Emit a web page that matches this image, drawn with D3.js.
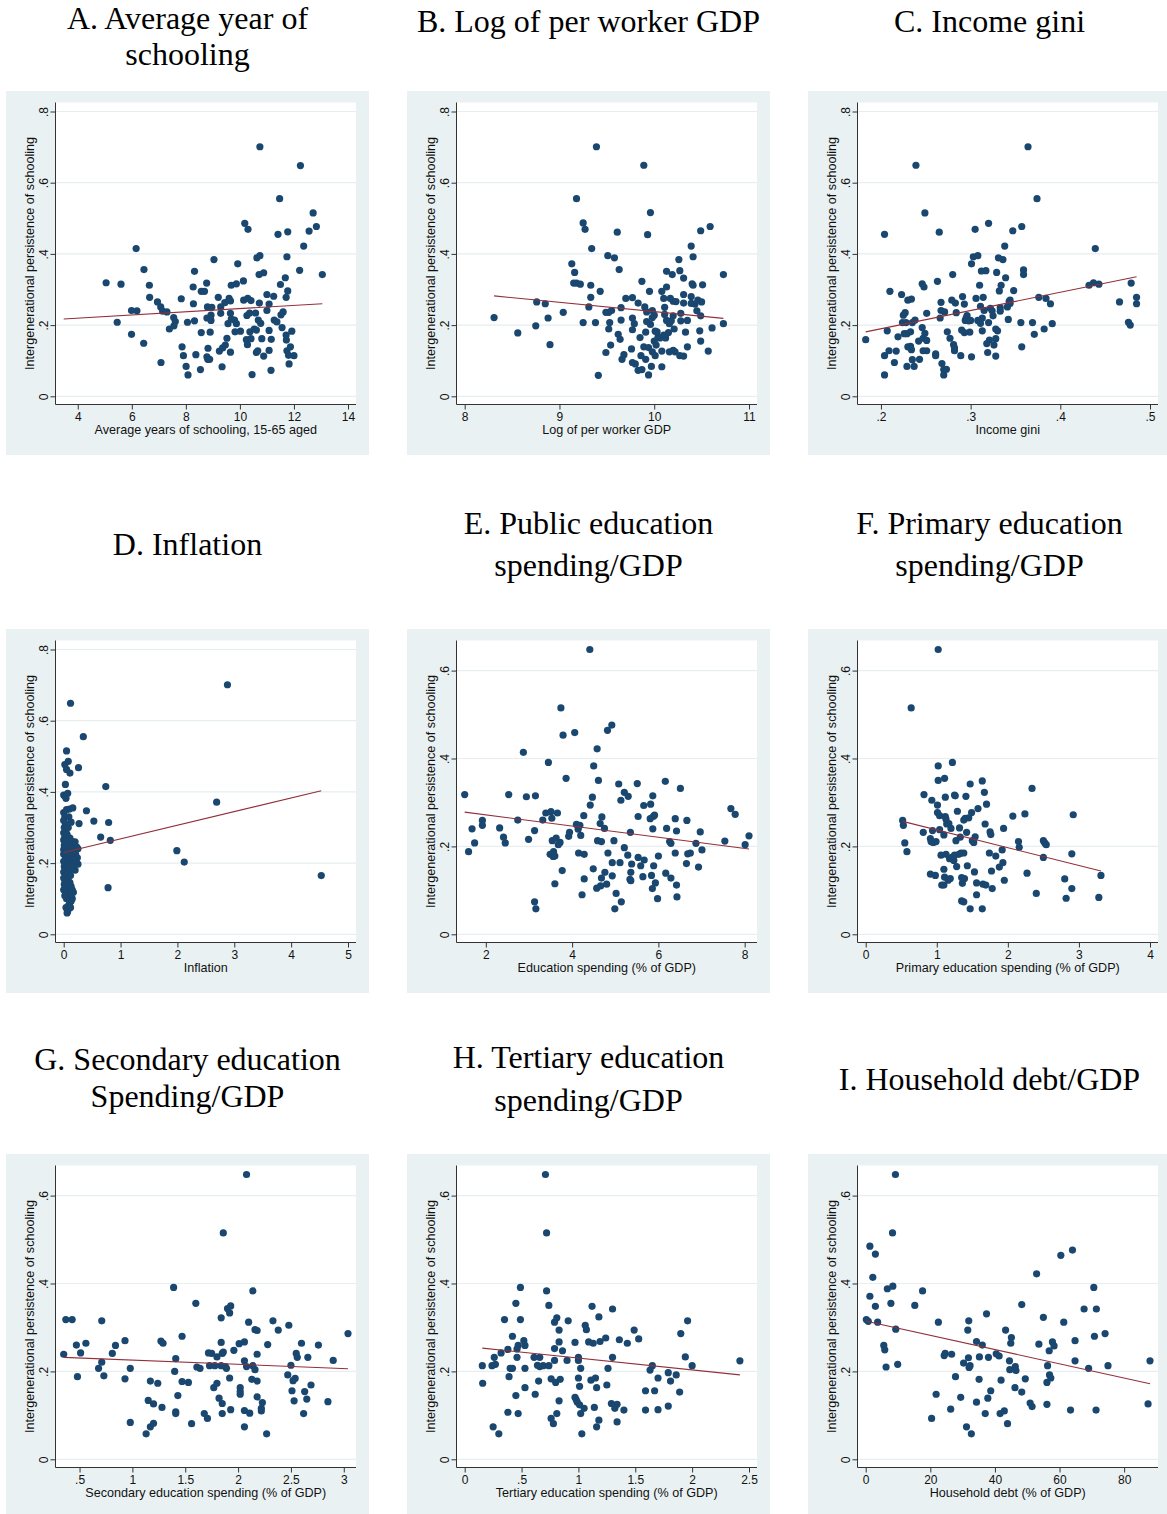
<!DOCTYPE html>
<html>
<head>
<meta charset="utf-8">
<script src="https://cdnjs.cloudflare.com/ajax/libs/d3/7.8.5/d3.min.js"></script>
<style>
    body { margin: 0; background: #fff; }
    svg { display: block; }
    .panel-title { font-family: "Liberation Serif", "Times New Roman", serif; font-size: 32px; fill: #000; }
    .axis-label { font-family: "Liberation Sans", Arial, sans-serif; font-size: 12.6px; fill: #111; }
    .tick text { font-family: "Liberation Sans", Arial, sans-serif; font-size: 12px; fill: #111; }
</style>
</head>
<body>
<div id="chart"></div>
<script>
// ---- data: [x, persistence] ----
var schoolingPts = [[5.05,.319],[5.6,.315],[5.46,.208],[5.99,.241],[6.19,.24],[5.99,.174],[6.16,.415],[6.45,.356],[6.44,.149],[6.65,.312],
    [6.66,.278],[6.95,.265],[7.07,.251],[7.14,.239],[7.3,.237],[7.08,.095],[7.39,.189],[7.55,.221],[7.61,.21],[7.56,.198],
    [7.83,.274],[7.86,.139],[7.91,.114],[8.06,.208],[8.01,.084],[8.08,.06],[8.27,.307],[8.32,.351],[8.28,.26],[8.32,.212],
    [8.37,.117],[8.54,.075],[8.57,.179],[8.57,.295],[8.69,.295],[8.77,.318],[8.8,.251],[8.78,.22],[8.82,.135],[8.78,.111],
    [8.81,.104],[8.88,.104],[8.9,.18],[8.93,.213],[8.96,.25],[8.93,.228],[9.04,.384],[9.2,.278],[9.24,.127],[9.29,.233],
    [9.29,.251],[9.34,.083],[9.36,.136],[9.44,.263],[9.46,.144],[9.52,.163],[9.56,.204],[9.6,.275],[9.65,.268],[9.65,.233],
    [9.68,.217],[9.65,.124],[9.68,.312],[9.8,.214],[9.82,.181],[9.87,.316],[9.92,.372],[9.87,.204],[10.02,.183],[10.13,.324],
    [10.14,.27],[10.18,.486],[10.3,.469],[10.26,.227],[10.28,.145],[10.24,.159],[10.29,.275],[10.41,.269],[10.36,.234],[10.37,.181],
    [10.45,.061],[10.41,.162],[10.53,.189],[10.58,.234],[10.61,.123],[10.61,.186],[10.63,.389],[10.71,.342],[10.72,.262],[10.74,.395],
    [10.74,.701],[10.68,.214],[10.77,.205],[10.81,.162],[10.66,.128],[10.88,.347],[10.88,.113],[11.0,.286],[11.0,.241],[11.08,.259],
    [11.08,.185],[11.08,.129],[11.15,.073],[11.16,.16],[11.25,.281],[11.27,.214],[11.37,.209],[11.41,.455],[11.47,.555],[11.5,.314],
    [11.52,.229],[11.56,.193],[11.6,.237],[11.68,.333],[11.71,.278],[11.71,.172],[11.72,.158],[11.74,.392],[11.77,.462],[11.77,.296],
    [11.74,.128],[11.8,.115],[11.82,.091],[11.87,.139],[11.92,.183],[12.0,.114],[12.21,.354],[12.24,.648],[12.36,.422],[12.56,.464],
    [12.71,.515],[12.83,.477],[13.05,.342]];
var schoolingFit = [[3.48,.217],[13.05,.26]];

var gdpPts = [[8.31,.221],[8.56,.178],[8.75,.198],[8.76,.265],[8.85,.26],[8.88,.22],[8.9,.145],[9.04,.236],[9.13,.372],[9.15,.318],
    [9.16,.348],[9.18,.555],[9.18,.318],[9.22,.315],[9.25,.487],[9.25,.207],[9.27,.469],[9.31,.251],[9.33,.278],[9.33,.312],
    [9.34,.415],[9.38,.207],[9.39,.701],[9.41,.059],[9.43,.295],[9.49,.123],[9.49,.236],[9.51,.395],[9.52,.236],[9.53,.207],
    [9.52,.189],[9.54,.144],[9.55,.241],[9.58,.389],[9.61,.461],[9.62,.174],[9.63,.356],[9.64,.16],[9.65,.214],[9.65,.249],
    [9.66,.104],[9.68,.117],[9.7,.275],[9.76,.133],[9.77,.187],[9.77,.22],[9.77,.277],[9.79,.204],[9.77,.095],[9.8,.091],
    [9.83,.262],[9.83,.073],[9.85,.165],[9.86,.114],[9.87,.323],[9.87,.075],[9.89,.649],[9.89,.139],[9.9,.251],[9.91,.104],
    [9.91,.18],[9.92,.237],[9.92,.21],[9.93,.454],[9.94,.137],[9.94,.06],[9.95,.295],[9.96,.516],[9.96,.202],[9.97,.084],
    [9.98,.125],[9.98,.221],[9.98,.241],[10.0,.228],[10.0,.155],[10.01,.114],[10.01,.183],[10.02,.144],[10.03,.181],[10.04,.166],
    [10.06,.164],[10.08,.127],[10.08,.083],[10.08,.295],[10.1,.275],[10.1,.172],[10.11,.25],[10.11,.23],[10.12,.164],[10.13,.213],
    [10.13,.307],[10.13,.351],[10.15,.179],[10.16,.204],[10.16,.125],[10.17,.275],[10.18,.212],[10.19,.342],[10.2,.267],[10.2,.129],
    [10.2,.226],[10.21,.189],[10.22,.125],[10.23,.266],[10.26,.384],[10.27,.114],[10.27,.353],[10.28,.233],[10.28,.212],[10.31,.113],
    [10.31,.332],[10.31,.286],[10.31,.262],[10.33,.18],[10.35,.213],[10.35,.139],[10.39,.422],[10.39,.28],[10.39,.261],[10.4,.316],
    [10.41,.392],[10.41,.312],[10.43,.259],[10.45,.24],[10.46,.27],[10.48,.184],[10.49,.465],[10.5,.265],[10.49,.226],[10.49,.155],
    [10.51,.313],[10.57,.127],[10.59,.477],[10.61,.192],[10.73,.342],[10.73,.204]];
var gdpFit = [[8.31,.282],[10.73,.219]];

var giniPts = [[.183,.159],[.204,.114],[.204,.455],[.204,.06],[.207,.184],[.209,.128],[.21,.295],[.215,.095],[.217,.127],[.219,.167],
    [.223,.286],[.224,.207],[.225,.228],[.227,.235],[.228,.207],[.226,.176],[.229,.084],[.229,.176],[.23,.27],[.23,.139],
    [.233,.14],[.233,.181],[.234,.273],[.234,.131],[.235,.207],[.235,.103],[.237,.084],[.238,.214],[.239,.649],[.242,.155],
    [.243,.104],[.246,.193],[.246,.316],[.247,.163],[.248,.307],[.247,.128],[.249,.515],[.249,.177],[.251,.233],[.251,.157],
    [.251,.128],[.261,.119],[.261,.114],[.263,.323],[.265,.461],[.266,.22],[.267,.264],[.267,.241],[.268,.092],[.27,.075],
    [.27,.06],[.271,.237],[.273,.076],[.274,.181],[.277,.163],[.28,.342],[.279,.27],[.281,.145],[.282,.128],[.283,.262],
    [.284,.235],[.282,.136],[.289,.114],[.29,.186],[.291,.28],[.293,.179],[.293,.259],[.294,.213],[.295,.22],[.296,.227],
    [.298,.212],[.299,.18],[.3,.213],[.301,.111],[.301,.372],[.303,.392],[.305,.469],[.306,.275],[.308,.395],[.308,.213],
    [.31,.312],[.311,.253],[.311,.205],[.312,.352],[.313,.22],[.313,.184],[.314,.278],[.315,.241],[.317,.353],[.318,.148],
    [.319,.123],[.32,.207],[.32,.486],[.321,.158],[.322,.247],[.324,.24],[.325,.226],[.326,.144],[.328,.113],[.328,.162],
    [.328,.189],[.329,.348],[.33,.184],[.331,.389],[.332,.296],[.333,.239],[.333,.249],[.334,.312],[.336,.384],[.338,.422],
    [.339,.333],[.341,.251],[.342,.216],[.343,.267],[.344,.27],[.344,.261],[.347,.465],[.348,.297],[.356,.207],[.357,.477],
    [.357,.139],[.359,.355],[.359,.342],[.364,.701],[.369,.207],[.371,.174],[.374,.555],[.376,.278],[.382,.189],[.384,.275],
    [.389,.26],[.391,.204],[.432,.312],[.437,.319],[.439,.415],[.443,.315],[.466,.265],[.476,.208],[.478,.2],[.479,.318],
    [.485,.278],[.485,.26]];
var giniFit = [[.183,.181],[.485,.336]];

var inflationPts = [[.12,.649],[.345,.555],[.05,.515],[.26,.468],[.08,.486],[.02,.477],[.05,.463],[.11,.453],[.03,.421],[0,.391],
    [.02,.389],[.07,.396],[.04,.382],[.74,.415],[.4,.347],[.53,.318],[.27,.311],[.79,.314],[.65,.273],[.82,.264],
    [.78,.131],[2.69,.371],[2.88,.701],[1.99,.235],[2.12,.203],[4.53,.165],
    [0,.342],[.02,.33],[0,.32],[.03,.31],[.01,.3],[.04,.29],[0,.285],[.02,.275],[.06,.28],[0,.265],
    [.03,.26],[.07,.255],[.01,.25],[.04,.245],[.09,.25],[0,.238],[.02,.232],[.06,.235],[.1,.24],[.13,.245],
    [.16,.26],[.2,.26],[.23,.245],[.25,.24],[.18,.235],[0,.225],[.03,.22],[.05,.215],[.08,.22],[.11,.225],
    [.14,.22],[.18,.22],[.21,.225],[.24,.215],[0,.205],[.02,.2],[.06,.205],[.09,.2],[.12,.205],[.15,.21],
    [.19,.2],[.22,.2],[.25,.197],[.2,.18],[.01,.19],[.04,.185],[.07,.19],[.1,.185],[.13,.19],[0,.175],
    [.03,.17],[.06,.168],[.09,.173],[.12,.165],[0,.158],[.02,.152],[.05,.155],[.08,.15],[.11,.145],[.01,.14],
    [.04,.135],[.07,.138],[.1,.13],[.13,.135],[0,.125],[.03,.12],[.06,.115],[.09,.118],[.12,.112],[.17,.118],
    [.15,.125],[.02,.108],[.05,.1],[.1,.095],[.13,.093],[.15,.1],[.04,.075],[.08,.08],[.12,.075],[.06,.06],
    [.07,.065],[.11,.09],[.05,.35],[.1,.352],[.16,.355],[.13,.315],[.09,.33],[.11,.27],[.08,.3]];
var inflationFit = [[0,.23],[4.53,.403]];

var eduPts = [[1.51,.318],[1.6,.188],[1.68,.24],[1.74,.208],[1.92,.259],[1.92,.248],[2.32,.242],[2.41,.221],[2.45,.208],[2.53,.318],
    [2.74,.26],[2.87,.414],[2.94,.313],[2.99,.216],[3.13,.236],[3.15,.315],[3.13,.074],[3.16,.058],[3.32,.26],[3.39,.276],
    [3.45,.391],[3.49,.182],[3.51,.279],[3.53,.264],[3.54,.213],[3.56,.177],[3.57,.188],[3.6,.115],[3.6,.178],[3.63,.219],
    [3.66,.276],[3.68,.204],[3.72,.209],[3.74,.515],[3.77,.145],[3.79,.453],[3.86,.355],[3.92,.223],[3.94,.232],[4.06,.459],
    [4.1,.25],[4.14,.239],[4.15,.185],[4.18,.248],[4.2,.225],[4.23,.09],[4.27,.27],[4.28,.182],[4.28,.126],[4.41,.648],
    [4.42,.294],[4.47,.312],[4.49,.149],[4.5,.383],[4.57,.105],[4.58,.422],[4.61,.35],[4.59,.213],[4.66,.11],[4.65,.252],
    [4.68,.211],[4.68,.128],[4.69,.267],[4.75,.241],[4.76,.141],[4.8,.114],[4.82,.464],[4.83,.185],[4.92,.476],[4.93,.133],
    [4.93,.163],[4.97,.213],[4.99,.058],[5.02,.093],[5.08,.342],[5.11,.163],[5.13,.305],[5.14,.074],[5.21,.323],[5.21,.197],
    [5.3,.314],[5.29,.18],[5.34,.125],[5.35,.232],[5.36,.141],[5.36,.122],[5.38,.16],[5.51,.343],[5.53,.268],[5.53,.175],
    [5.59,.156],[5.66,.293],[5.67,.169],[5.64,.131],[5.81,.263],[5.82,.296],[5.84,.134],[5.86,.104],[5.87,.24],[5.87,.315],
    [5.88,.268],[5.89,.156],[5.91,.271],[5.93,.117],[5.98,.081],[6.0,.178],[6.16,.348],[6.17,.139],[6.19,.241],[6.26,.211],
    [6.29,.207],[6.29,.128],[6.39,.263],[6.39,.185],[6.42,.235],[6.42,.112],[6.43,.085],[6.51,.332],[6.65,.161],[6.66,.259],
    [6.68,.183],[6.74,.185],[6.87,.207],[6.93,.153],[6.97,.233],[7.01,.192],[7.54,.212],[7.68,.286],[7.78,.273],[8.01,.204],
    [8.1,.224]];
var eduFit = [[1.51,.278],[8.1,.194]];

var primaryPts = [[.52,.259],[.53,.248],[.55,.208],[.58,.188],[.64,.515],[.81,.232],[.82,.318],[.91,.137],[.91,.218],[.93,.305],
    [.92,.211],[.94,.236],[.95,.209],[.98,.134],[.99,.211],[1.01,.277],[1.01,.294],[1.02,.383],[1.02,.648],[1.02,.35],
    [1.04,.27],[1.04,.238],[1.06,.18],[1.07,.112],[1.1,.148],[1.1,.226],[1.1,.112],[1.11,.355],[1.11,.13],[1.12,.268],
    [1.12,.312],[1.13,.262],[1.13,.182],[1.14,.251],[1.16,.123],[1.17,.252],[1.18,.172],[1.19,.127],[1.2,.241],[1.21,.175],
    [1.22,.391],[1.24,.168],[1.25,.317],[1.25,.18],[1.26,.315],[1.27,.213],[1.28,.154],[1.29,.28],[1.31,.182],[1.32,.242],
    [1.33,.221],[1.34,.185],[1.35,.076],[1.35,.129],[1.36,.116],[1.38,.074],[1.38,.185],[1.38,.26],[1.39,.127],[1.4,.264],
    [1.41,.314],[1.42,.232],[1.43,.156],[1.45,.265],[1.47,.342],[1.47,.058],[1.49,.277],[1.5,.213],[1.52,.209],[1.53,.142],
    [1.54,.222],[1.56,.09],[1.56,.117],[1.58,.286],[1.64,.349],[1.64,.058],[1.65,.114],[1.67,.323],[1.68,.251],[1.69,.112],
    [1.7,.296],[1.74,.185],[1.75,.233],[1.76,.227],[1.77,.144],[1.78,.104],[1.83,.178],[1.88,.153],[1.92,.192],[1.93,.163],
    [1.94,.241],[1.95,.123],[2.07,.269],[2.15,.211],[2.16,.198],[2.24,.274],[2.27,.139],[2.34,.332],[2.4,.093],[2.5,.213],
    [2.5,.175],[2.52,.208],[2.54,.204],[2.8,.126],[2.82,.082],[2.9,.104],[2.9,.183],[2.92,.272],[3.28,.084],[3.31,.134]];
var primaryFit = [[.52,.257],[3.31,.144]];

var secondaryPts = [[.35,.239],[.37,.318],[.43,.318],[.47,.26],[.48,.188],[.51,.242],[.56,.264],[.68,.207],[.71,.315],[.71,.221],
    [.73,.19],[.81,.241],[.84,.259],[.93,.27],[.93,.183],[.98,.084],[.98,.207],[1.13,.058],[1.15,.134],[1.17,.074],
    [1.17,.178],[1.2,.126],[1.2,.082],[1.24,.173],[1.27,.269],[1.29,.264],[1.28,.118],[1.39,.391],[1.41,.229],[1.4,.2],
    [1.41,.108],[1.41,.104],[1.43,.145],[1.47,.28],[1.47,.177],[1.53,.175],[1.56,.081],[1.6,.355],[1.61,.21],[1.64,.207],
    [1.68,.104],[1.71,.093],[1.72,.242],[1.73,.213],[1.75,.241],[1.77,.163],[1.78,.213],[1.8,.173],[1.8,.233],[1.82,.139],
    [1.84,.322],[1.84,.266],[1.84,.213],[1.85,.127],[1.85,.104],[1.85,.241],[1.86,.515],[1.86,.244],[1.88,.211],[1.89,.207],
    [1.9,.343],[1.92,.333],[1.93,.349],[1.92,.185],[1.93,.113],[1.96,.248],[2.01,.263],[2.02,.163],[2.02,.154],[2.02,.148],
    [2.06,.267],[2.06,.224],[2.06,.111],[2.06,.074],[2.08,.648],[2.08,.211],[2.1,.312],[2.11,.105],[2.13,.182],[2.14,.213],
    [2.14,.383],[2.16,.204],[2.16,.295],[2.18,.142],[2.18,.293],[2.18,.239],[2.18,.178],[2.22,.116],[2.23,.129],[2.22,.11],
    [2.27,.058],[2.28,.261],[2.33,.315],[2.38,.294],[2.48,.305],[2.47,.192],[2.5,.214],[2.51,.156],[2.52,.179],[2.53,.133],
    [2.54,.184],[2.55,.241],[2.56,.232],[2.6,.264],[2.62,.104],[2.63,.154],[2.65,.137],[2.66,.232],[2.69,.169],[2.76,.26],
    [2.85,.131],[2.9,.225],[3.04,.286]];
var secondaryFit = [[.35,.232],[3.04,.206]];

var tertiaryPts = [[.155,.213],[.158,.173],[.24,.213],[.26,.232],[.27,.216],[.25,.074],[.3,.058],[.32,.242],[.35,.318],[.38,.25],
    [.38,.107],[.39,.188],[.4,.207],[.42,.207],[.42,.28],[.45,.355],[.45,.145],[.46,.251],[.46,.232],[.47,.104],
    [.47,.259],[.49,.318],[.49,.391],[.52,.27],[.53,.259],[.53,.207],[.53,.163],[.61,.232],[.62,.148],[.64,.214],
    [.65,.178],[.66,.211],[.66,.232],[.69,.213],[.71,.648],[.72,.515],[.72,.383],[.74,.35],[.74,.213],[.76,.093],
    [.76,.183],[.78,.081],[.79,.252],[.79,.312],[.79,.225],[.8,.175],[.81,.322],[.81,.104],[.83,.294],[.83,.267],
    [.83,.133],[.84,.182],[.86,.247],[.9,.225],[.91,.315],[.97,.266],[.97,.141],[.98,.136],[.99,.13],[1.0,.232],
    [1.0,.225],[1.0,.185],[1.01,.166],[1.01,.124],[1.02,.104],[1.02,.207],[1.05,.116],[1.03,.058],[1.06,.305],[1.07,.295],
    [1.09,.267],[1.11,.18],[1.12,.348],[1.13,.264],[1.14,.118],[1.15,.185],[1.16,.074],[1.16,.163],[1.18,.089],[1.18,.324],
    [1.19,.268],[1.24,.276],[1.25,.169],[1.26,.207],[1.29,.127],[1.3,.342],[1.3,.232],[1.32,.116],[1.34,.125],[1.34,.085],
    [1.36,.272],[1.4,.112],[1.43,.264],[1.49,.294],[1.53,.274],[1.59,.156],[1.59,.112],[1.63,.203],[1.65,.213],[1.67,.156],
    [1.7,.185],[1.7,.113],[1.79,.121],[1.79,.197],[1.81,.178],[1.86,.192],[1.89,.153],[1.9,.286],[1.94,.233],[1.96,.315],
    [2.0,.213],[2.42,.224]];
var tertiaryFit = [[.155,.253],[2.42,.192]];

var debtPts = [[.2,.318],[.8,.314],[1.3,.485],[1.3,.371],[2.2,.414],[3.0,.467],[3.0,.348],[3.7,.312],[5.6,.259],[5.9,.249],
    [6.3,.21],[6.7,.388],[7.8,.355],[8.3,.515],[8.4,.394],[9.2,.648],[9.3,.296],[9.9,.216],[15.2,.35],[17.6,.383],
    [20.4,.093],[21.8,.148],[22.5,.312],[24.3,.236],[24.6,.241],[26.3,.114],[26.6,.239],[27.8,.188],[29.4,.141],[30.3,.219],
    [31.2,.074],[31.6,.294],[31.8,.231],[31.9,.315],[32.0,.209],[32.3,.213],[32.7,.058],[34.3,.13],[34.3,.268],[35.1,.182],
    [35.2,.233],[36.1,.26],[37.0,.104],[37.4,.331],[37.8,.139],[38.0,.232],[38.7,.156],[40.4,.24],[41.3,.235],[41.6,.104],
    [41.9,.18],[42.9,.11],[43.3,.294],[43.9,.081],[44.5,.224],[44.6,.204],[44.9,.264],[45.1,.277],[46.2,.163],[46.3,.211],
    [46.5,.202],[48.3,.153],[48.3,.352],[49.4,.183],[50.9,.128],[51.5,.12],[52.9,.422],[53.6,.262],[55.0,.323],[56.1,.125],
    [56.1,.175],[56.3,.213],[56.8,.247],[56.9,.192],[57.3,.185],[57.8,.267],[58.3,.258],[60.4,.464],[61.3,.312],[63.4,.112],
    [64.0,.476],[64.8,.27],[64.8,.224],[67.6,.342],[69.0,.207],[70.6,.391],[70.8,.28],[71.3,.112],[71.4,.342],[74.1,.286],
    [75.0,.213],[87.4,.126],[88.0,.224]];
var debtFit = [[.2,.314],[88.0,.172]];

// tick values
var yTicksWide = [0, .2, .4, .6, .8];
var yTicksShort = [0, .2, .4, .6];
var schoolingTicks = [4, 6, 8, 10, 12, 14];
var gdpTicks = [8, 9, 10, 11];
var giniTicks = [.2, .3, .4, .5];
var inflationTicks = [0, 1, 2, 3, 4, 5];
var eduTicks = [2, 4, 6, 8];
var primaryTicks = [0, 1, 2, 3, 4];
var secondaryTicks = [.5, 1, 1.5, 2, 2.5, 3];
var tertiaryTicks = [0, .5, 1, 1.5, 2, 2.5];
var debtTicks = [0, 20, 40, 60, 80];

// titles and axis texts
var panelTitles = [
    ['A. Average year of', 'schooling'], ['B. Log of per worker GDP'], ['C. Income gini'],
    ['D. Inflation'], ['E. Public education', 'spending/GDP'], ['F. Primary education', 'spending/GDP'],
    ['G. Secondary education', 'Spending/GDP'], ['H. Tertiary education', 'spending/GDP'], ['I. Household debt/GDP']
];
var xTitles = ['Average years of schooling, 15-65 aged', 'Log of per worker GDP', 'Income gini',
    'Inflation', 'Education spending (% of GDP)', 'Primary education spending (% of GDP)',
    'Secondary education spending (% of GDP)', 'Tertiary education spending (% of GDP)', 'Household debt (% of GDP)'];
var yTitle = 'Intergenerational persistence of schooling';

// ---- layout ----
var W = 1167, H = 1514;
var colLeft = [6, 407, 808];
var rowTop = [91, 629, 1154];
var titleBase = [[29, 65], [32], [32], [555], [534, 576], [534, 576], [1070, 1107], [1068, 1111], [1090]];
var BOX = {w: 363, h: 364};
var PLOT = {l: 49.5, r: 350, t: 11.5, b: 313.5};
var INNER = {l: 57.7, r: 342, t: 20.5, b: 305.3};

function stataFmt(d) {
    var s = d3.format('~g')(d);
    return s.replace(/^0\./, '.');
}

/**
 * One scatter panel with its fitted line
 */
function ScatterPanel(svg, opts) {
    var self = this;
    self.svg = svg;
    self.opts = opts;
}

ScatterPanel.prototype.init = function () {
    var self = this;
    var o = self.opts;

    self.g = self.svg.append('g')
        .attr('transform', 'translate(' + o.left + ',' + o.top + ')');

    // graph region and white plot region
    self.g.append('rect')
        .attr('width', BOX.w).attr('height', BOX.h)
        .attr('fill', '#eaf1f3');
    self.g.append('rect')
        .attr('x', PLOT.l).attr('y', PLOT.t)
        .attr('width', PLOT.r - PLOT.l).attr('height', PLOT.b - PLOT.t)
        .attr('fill', '#fff');

    var xs = o.pts.map(function (d) { return d[0]; }).concat(o.fit.map(function (d) { return d[0]; }), o.xTicks);
    var ys = o.pts.map(function (d) { return d[1]; }).concat(o.yTicks);

    self.x = d3.scaleLinear().domain(d3.extent(xs)).range([INNER.l, INNER.r]);
    self.y = d3.scaleLinear().domain(d3.extent(ys)).range([INNER.b, INNER.t]);

    self.update();
};

ScatterPanel.prototype.update = function () {
    var self = this;
    var o = self.opts;

    // grid lines
    self.g.selectAll('.grid').data(o.yTicks).enter().append('line')
        .attr('class', 'grid')
        .attr('x1', PLOT.l).attr('x2', PLOT.r)
        .attr('y1', function (d) { return self.y(d); })
        .attr('y2', function (d) { return self.y(d); })
        .attr('stroke', '#e6eef1').attr('stroke-width', 1.2);

    // y axis
    var yAxis = self.g.append('g')
        .attr('transform', 'translate(' + PLOT.l + ',0)')
        .call(d3.axisLeft(self.y).tickValues(o.yTicks).tickFormat(stataFmt).tickSize(5).tickSizeOuter(0));
    yAxis.select('.domain').remove();
    yAxis.selectAll('.tick line').attr('stroke', '#333');
    yAxis.selectAll('.tick text')
        .attr('x', null).attr('dy', null)
        .attr('text-anchor', 'middle')
        .attr('transform', 'translate(-8,0) rotate(-90)');

    // x axis
    var xAxis = self.g.append('g')
        .attr('transform', 'translate(0,' + PLOT.b + ')')
        .call(d3.axisBottom(self.x).tickValues(o.xTicks).tickFormat(stataFmt).tickSize(5).tickSizeOuter(0));
    xAxis.select('.domain').remove();
    xAxis.selectAll('.tick line').attr('stroke', '#333');
    xAxis.selectAll('.tick text').attr('y', 8).attr('dy', '0.71em');

    // axis lines over the whole plot region
    self.g.append('line')
        .attr('x1', PLOT.l).attr('x2', PLOT.l).attr('y1', PLOT.t).attr('y2', PLOT.b)
        .attr('stroke', '#333');
    self.g.append('line')
        .attr('x1', PLOT.l).attr('x2', PLOT.r).attr('y1', PLOT.b).attr('y2', PLOT.b)
        .attr('stroke', '#333');

    // axis titles
    self.g.append('text')
        .attr('class', 'axis-label')
        .attr('text-anchor', 'middle')
        .attr('transform', 'translate(27.5,' + (PLOT.t + PLOT.b) / 2 + ') rotate(-90)')
        .text(yTitle);
    self.g.append('text')
        .attr('class', 'axis-label')
        .attr('text-anchor', 'middle')
        .attr('x', (PLOT.l + PLOT.r) / 2)
        .attr('y', 343)
        .text(o.xTitle);

    // points
    self.g.selectAll('.dot').data(o.pts).enter().append('circle')
        .attr('class', 'dot')
        .attr('cx', function (d) { return self.x(d[0]); })
        .attr('cy', function (d) { return self.y(d[1]); })
        .attr('r', 3.6)
        .attr('fill', '#1a476f');

    // fitted line
    var line = d3.line()
        .x(function (d) { return self.x(d[0]); })
        .y(function (d) { return self.y(d[1]); });
    self.g.append('path')
        .datum(o.fit)
        .attr('d', line)
        .attr('fill', 'none')
        .attr('stroke', '#91303a')
        .attr('stroke-width', 1.1);
};

var svg = d3.select('#chart').append('svg')
    .attr('width', W).attr('height', H);

var panelData = [
    [schoolingPts, schoolingFit, schoolingTicks, yTicksWide],
    [gdpPts, gdpFit, gdpTicks, yTicksWide],
    [giniPts, giniFit, giniTicks, yTicksWide],
    [inflationPts, inflationFit, inflationTicks, yTicksWide],
    [eduPts, eduFit, eduTicks, yTicksShort],
    [primaryPts, primaryFit, primaryTicks, yTicksShort],
    [secondaryPts, secondaryFit, secondaryTicks, yTicksShort],
    [tertiaryPts, tertiaryFit, tertiaryTicks, yTicksShort],
    [debtPts, debtFit, debtTicks, yTicksShort]
];

panelData.forEach(function (p, i) {
    var col = i % 3, row = Math.floor(i / 3);
    var cx = colLeft[col] + BOX.w / 2;

    svg.selectAll('.title-' + i).data(panelTitles[i]).enter().append('text')
        .attr('class', 'panel-title title-' + i)
        .attr('text-anchor', 'middle')
        .attr('x', cx)
        .attr('y', function (d, j) { return titleBase[i][j]; })
        .text(function (d) { return d; });

    var panel = new ScatterPanel(svg, {
        left: colLeft[col], top: rowTop[row],
        pts: p[0], fit: p[1], xTicks: p[2], yTicks: p[3],
        xTitle: xTitles[i]
    });
    panel.init();
});
</script>
</body>
</html>
